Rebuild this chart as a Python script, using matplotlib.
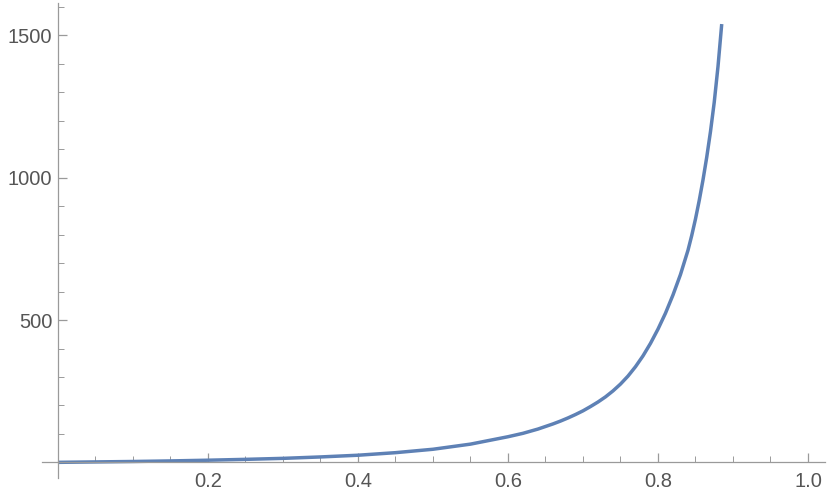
import matplotlib
matplotlib.use("Agg")
import matplotlib.pyplot as plt
from matplotlib.ticker import MultipleLocator, FixedLocator

# Data
x_vals = [0.0, 0.05, 0.1, 0.15, 0.2, 0.25, 0.3, 0.35, 0.4, 0.45, 0.5, 0.55,
          0.6, 0.62, 0.64, 0.66, 0.67, 0.68, 0.69, 0.7, 0.71, 0.72, 0.73, 0.74, 0.75,
          0.76, 0.77, 0.78, 0.79, 0.8, 0.81, 0.82, 0.83, 0.84, 0.845, 0.85,
          0.855, 0.86, 0.865, 0.87, 0.875, 0.88, 0.885]
y_vals = [0.0, 1.5, 3.0, 5.0, 7.5, 10.5, 14.0, 19.0, 25.0, 34.0, 46.0, 64.0,
          90.0, 102.0, 117.0, 135.0, 145.0, 156.0, 168.0, 181.0, 196.0, 212.0, 230.0, 251.0, 275.0,
          303.0, 336.0, 374.0, 418.0, 468.0, 524.0, 588.0, 660.0, 745.0, 797.0, 855.0,
          920.0, 992.0, 1072.0, 1162.0, 1265.0, 1390.0, 1540.0]
x_ticks = [0.2, 0.4, 0.6, 0.8, 1.0]
x_tick_labels = ["0.2", "0.4", "0.6", "0.8", "1.0"]
y_ticks = [500, 1000, 1500]
y_tick_labels = ["500", "1000", "1500"]

plt.rcParams['font.family'] = ['Liberation Sans', 'DejaVu Sans']

fig = plt.figure(figsize=(8.30, 5.01), dpi=100)
ax = fig.add_axes([42/830, 23/501, 783/830, 475/501])

ax.plot(x_vals, y_vals, color="#5E81B5", lw=2.5, solid_capstyle="butt",
        solid_joinstyle="round")

ax.set_xlim(-0.0213, 1.0227)
ax.set_ylim(-55, 1614)

for side in ["top", "right"]:
    ax.spines[side].set_visible(False)
ax.spines["left"].set_position(("data", 0))
ax.spines["bottom"].set_position(("data", 0))
axis_col = "#9a9a9a"
for side in ["left", "bottom"]:
    ax.spines[side].set_color(axis_col)
    ax.spines[side].set_linewidth(0.9)

ax.xaxis.set_major_locator(FixedLocator(x_ticks))
ax.set_xticklabels(x_tick_labels)
ax.xaxis.set_minor_locator(MultipleLocator(0.05))
ax.yaxis.set_major_locator(FixedLocator(y_ticks))
ax.set_yticklabels(y_tick_labels)
ax.yaxis.set_minor_locator(MultipleLocator(100))

ax.tick_params(axis="both", which="major", direction="in", length=6.5, width=0.9,
               color=axis_col, labelcolor="#555555", labelsize=14.5)
ax.tick_params(axis="both", which="minor", direction="in", length=4, width=0.7,
               color=axis_col)
ax.tick_params(axis="x", which="major", pad=7)
ax.tick_params(axis="y", which="major", pad=4)

fig.savefig("out.png", dpi=100)
